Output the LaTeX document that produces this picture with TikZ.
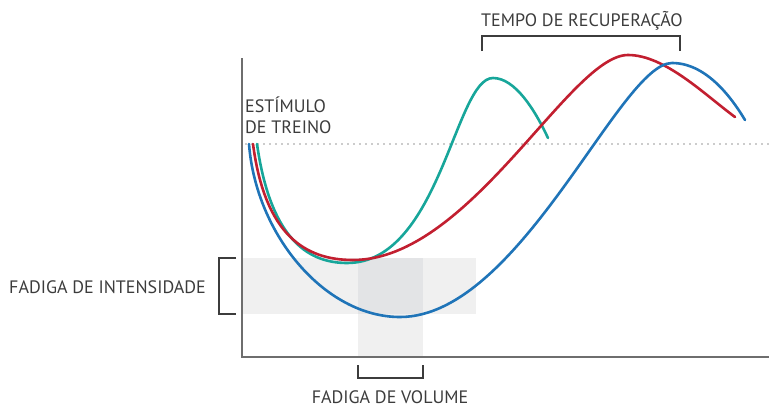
\documentclass[tikz,border=0pt]{standalone}
\usepackage{fontspec}
\setmainfont{PT Sans}
\definecolor{teal1}{HTML}{17A69A}
\definecolor{red1}{HTML}{C21F30}
\definecolor{blue1}{HTML}{1F74B8}
\definecolor{band}{HTML}{F0F0F0}
\definecolor{bandd}{HTML}{E3E4E6}
\definecolor{axisc}{HTML}{6E6E6E}
\definecolor{txt}{HTML}{3C3C3C}
\definecolor{dotc}{HTML}{CCCCCC}
\begin{document}
\begin{tikzpicture}[x=1pt,y=-1pt,
  lbl/.style={text=txt,font=\fontsize{18}{20}\selectfont,inner sep=0pt},
  brk/.style={draw=txt,line width=1.1pt},
  curve/.style={line width=2.6pt,line cap=round}]
\useasboundingbox (0,0) rectangle (769,407);
% bands
\fill[band] (243,258) rectangle (476,314);
\fill[band] (358,258) rectangle (423,357);
\fill[bandd] (358,258) rectangle (423,314);
% dotted stimulus line
\draw[dotc,line width=2.2pt,dash pattern=on 2.2pt off 3.8pt] (245,144) -- (769,144);
% axes
\coordinate (top) at (242,58);
\coordinate (orig) at (242,357);
\coordinate (right) at (769,357);
\draw[axisc,line width=2pt] (top) -- (orig) -- (right);
% curves
\draw[curve,teal1] (257,144) .. controls (270,235) and (305,263) .. (347,263)
  .. controls (440,263) and (455,78) .. (493,78)
  .. controls (515,78) and (535,110) .. (548,138);
\draw[curve,red1] (253,144) .. controls (265,235) and (305,260) .. (353,260)
  .. controls (470,260) and (570,55) .. (628,55)
  .. controls (665,55) and (705,95) .. (735,117);
\draw[curve,blue1] (249,144) .. controls (256,235) and (325,317) .. (400,317)
  .. controls (520,317) and (620,63) .. (672,63)
  .. controls (705,63) and (730,95) .. (745,120);
% brackets
\draw[brk] (236,258) -- (219,258) -- (219,314) -- (236,314);
\draw[brk] (482,51) -- (482,36) -- (680,36) -- (680,51);
\draw[brk] (358,365) -- (358,378) -- (423,378) -- (423,365);
% labels
\node[lbl,anchor=base west] (fi) at (9,293) {FADIGA DE INTENSIDADE};
\node[lbl,anchor=base] (fv) at (390,403) {FADIGA DE VOLUME};
\node[lbl,anchor=base] (tr) at (582,26) {TEMPO DE RECUPERAÇÃO};
\node[lbl,anchor=base west] (e1) at (245,112) {ESTÍMULO};
\node[lbl,anchor=base west] (e2) at (245,133) {DE TREINO};
\end{tikzpicture}
\end{document}
